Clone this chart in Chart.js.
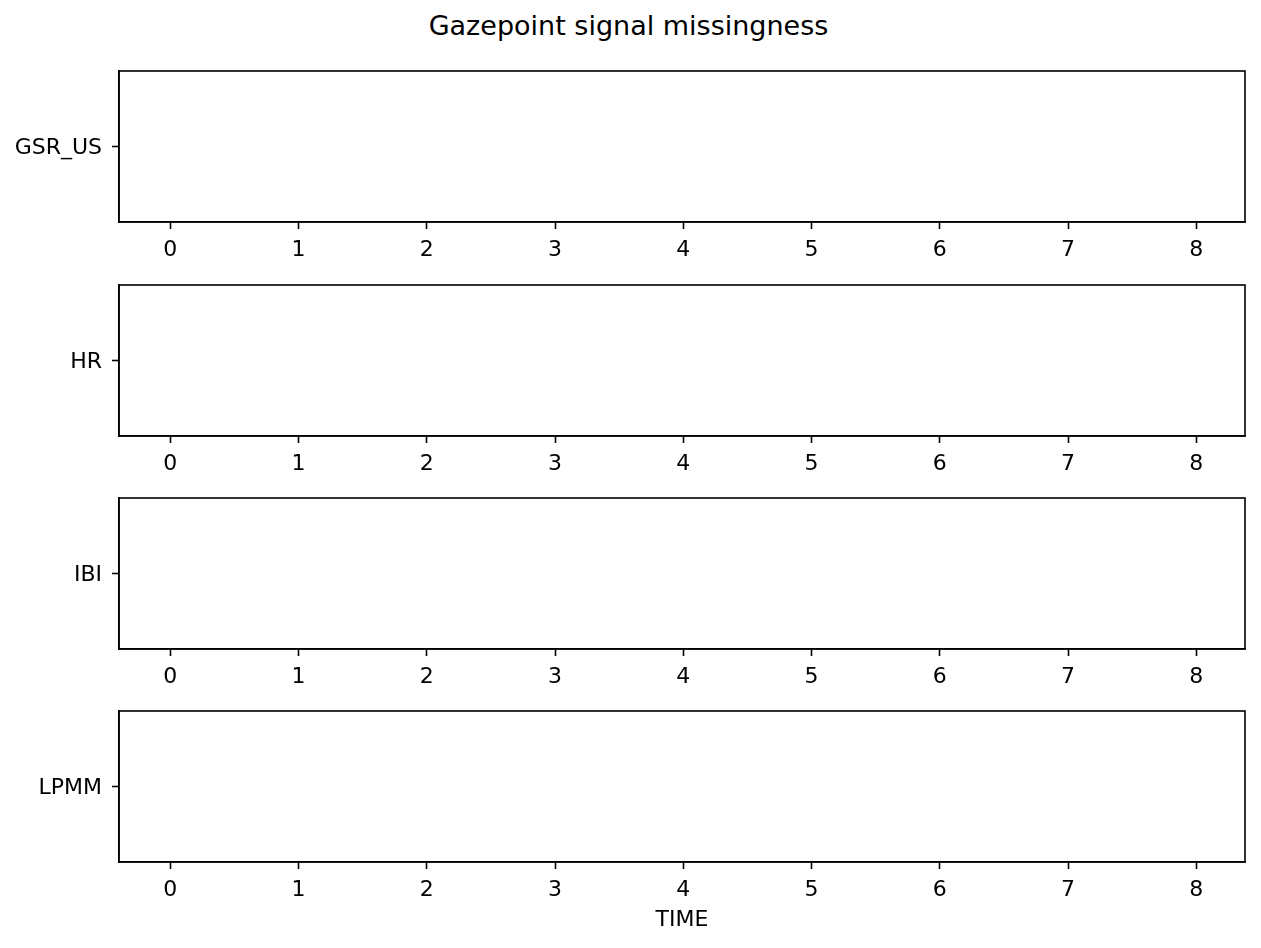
<!DOCTYPE html>
<html>
<head>
<meta charset="utf-8">
<script src="https://cdn.jsdelivr.net/npm/chart.js@4.4.1/dist/chart.umd.min.js"></script>
<style>
  html, body { margin: 0; padding: 0; background: #fff; }
  body { width: 1261px; height: 948px; position: relative; overflow: hidden; }
  .panel { position: absolute; left: 0; width: 1261px; }
  #title { position: absolute; top: 10px; left: -2px; width: 1261px; text-align: center;
           font-family: "DejaVu Sans"; font-size: 27px; color: #000; }
</style>
</head>
<body>
<div id="title">Gazepoint signal missingness</div>
<div class="panel" style="top:69px;height:213px"><canvas id="c0"></canvas></div>
<div class="panel" style="top:283px;height:213px"><canvas id="c1"></canvas></div>
<div class="panel" style="top:496px;height:213px"><canvas id="c2"></canvas></div>
<div class="panel" style="top:709px;height:239px"><canvas id="c3"></canvas></div>
<script>
// signals and their missing time points (none are missing)
const signals = ['GSR_US', 'HR', 'IBI', 'LPMM'];
const missingGSR = [];
const missingHR = [];
const missingIBI = [];
const missingLPMM = [];
const missing = [missingGSR, missingHR, missingIBI, missingLPMM];
const timeTicks = [0, 1, 2, 3, 4, 5, 6, 7, 8];
const timeMin = -0.4;
const timeMax = 8.38;

const font = { family: 'DejaVu Sans', size: 22 };

// draw the frame round the plot area like matplotlib spines
const frame = {
  id: 'frame',
  afterDraw(chart) {
    const a = chart.chartArea;
    const c = chart.ctx;
    c.save();
    c.strokeStyle = '#000';
    c.lineWidth = 1.6;
    c.strokeRect(a.left, a.top, a.right - a.left, a.bottom - a.top);
    c.restore();
  }
};

signals.forEach((name, i) => {
  const last = i === signals.length - 1;
  const el = document.getElementById('c' + i);
  new Chart(el, {
    type: 'scatter',
    data: {
      datasets: [{
        label: name,
        data: missing[i].map(t => ({ x: t, y: name })),
        backgroundColor: '#1f77b4',
        pointRadius: 3
      }]
    },
    options: {
      responsive: true,
      maintainAspectRatio: false,
      animation: false,
      devicePixelRatio: 1,
      layout: { padding: { top: 2, right: 16, left: 0, bottom: last ? 15 : 0 } },
      plugins: { legend: { display: false }, tooltip: { enabled: false } },
      scales: {
        x: {
          type: 'linear',
          min: timeMin,
          max: timeMax,
          afterBuildTicks: s => { s.ticks = timeTicks.map(v => ({ value: v })); },
          afterFit: s => {
            s.height = last ? 71 : 60;
            s.paddingLeft = 0; s.paddingRight = 0;
          },
          grid: { drawOnChartArea: false, drawTicks: true, tickLength: 7, tickWidth: 1.6, tickColor: '#000' },
          border: { display: true, color: '#000', width: 1.6 },
          ticks: { color: '#000', font: font, padding: 8, maxRotation: 0, autoSkip: false },
          title: { display: last, text: 'TIME', color: '#000', font: font, padding: 0 }
        },
        y: {
          type: 'category',
          labels: [name],
          offset: true,
          afterFit: s => {
            s.width = 119;
            s.paddingTop = 0; s.paddingBottom = 0;
          },
          grid: { drawOnChartArea: false, drawTicks: true, tickLength: 7, tickWidth: 1.6, tickColor: '#000', offset: false },
          border: { display: true, color: '#000', width: 1.6 },
          ticks: { color: '#000', font: font, padding: 10, labelOffset: 2 }
        }
      }
    },
    plugins: [frame]
  });
});
</script>
</body>
</html>
